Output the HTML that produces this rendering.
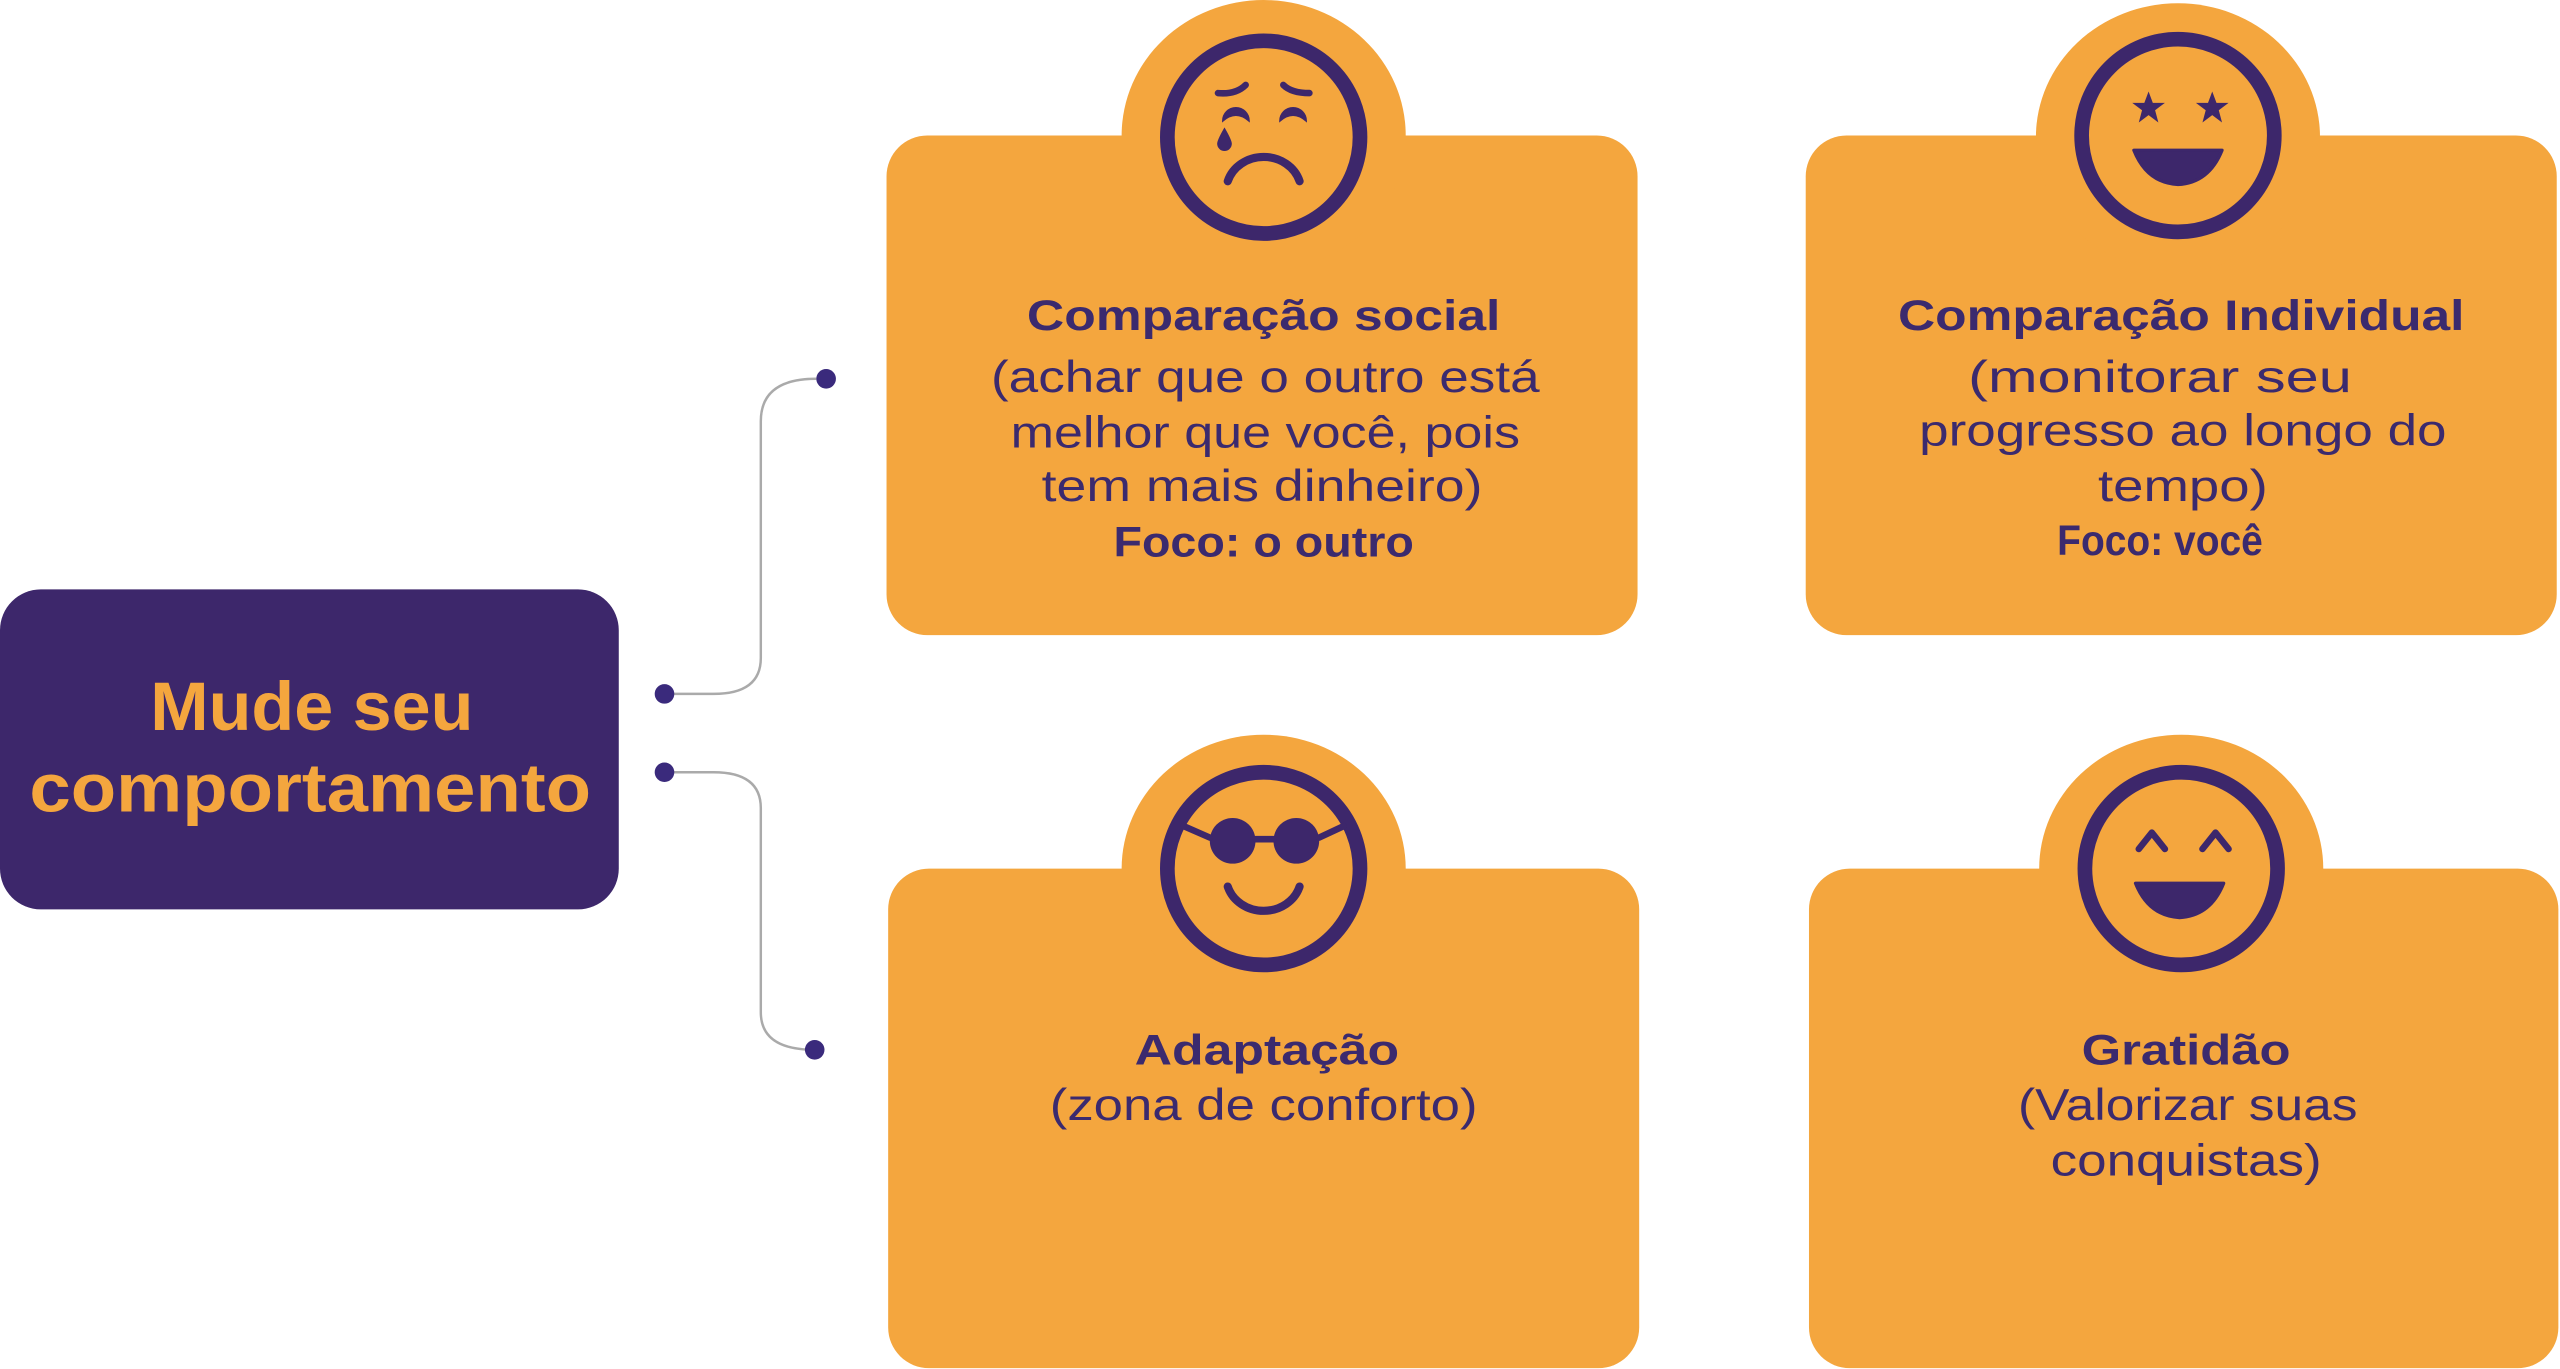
<!DOCTYPE html>
<html><head><meta charset="utf-8"><style>
html,body{margin:0;padding:0;background:#fff;width:2560px;height:1369px;overflow:hidden}
svg{display:block}
text{font-family:"Liberation Sans",sans-serif;fill:#3b2a6e}
.t{font-weight:bold;font-size:26px}
.b{font-size:27px}
</style></head><body>
<svg width="2560" height="1369" viewBox="0 0 1568 838.5" xmlns="http://www.w3.org/2000/svg">
<rect x="0" y="361" width="379" height="196" rx="25" fill="#3d276b"/>
<text x="191" y="447" text-anchor="middle" font-weight="bold" font-size="42" style="fill:#f4a63e" textLength="198" lengthAdjust="spacingAndGlyphs">Mude seu</text>
<text x="190" y="497" text-anchor="middle" font-weight="bold" font-size="42" style="fill:#f4a63e" textLength="344" lengthAdjust="spacingAndGlyphs">comportamento</text>
<g fill="none" stroke="#aaa" stroke-width="1.5">
<path d="M407,425 H437 Q466,425 466,403 V258 Q466,232 500,232"/>
<path d="M407,473 H437 Q466,473 466,495 V620 Q466,643 499,643"/>
</g>
<g fill="#3a2a7c">
<circle cx="407" cy="425" r="6"/><circle cx="506" cy="232" r="6"/>
<circle cx="407" cy="473" r="6"/><circle cx="499" cy="643" r="6"/>
</g>
<g fill="#f4a63e">
<rect x="543" y="83" width="460" height="306" rx="25"/><ellipse cx="774" cy="83" rx="87" ry="83"/>
<rect x="1106" y="83" width="460" height="306" rx="25"/><ellipse cx="1334" cy="84" rx="87" ry="82"/>
<rect x="544" y="532" width="460" height="306" rx="25"/><ellipse cx="774" cy="532" rx="87" ry="82"/>
<rect x="1108" y="532" width="459" height="306" rx="25"/><ellipse cx="1336" cy="532" rx="87" ry="82"/>
</g>
<g fill="none" stroke="#3d276b" stroke-width="9">
<circle cx="774" cy="84" r="59"/><circle cx="1334" cy="83" r="59"/>
<circle cx="774" cy="532" r="59"/><circle cx="1336" cy="532" r="59"/>
</g>
<g fill="#3d276b" stroke="#3d276b" stroke-linecap="round">
<path d="M746,57 Q757,58 763,52 M786,52 Q791,57 802,57" fill="none" stroke-width="4"/>
<path d="M749,74 a8,8 0 0 1 16,0 Q757,67 749,74z" stroke-width="1"/>
<path d="M784,74 a8,8 0 0 1 16,0 Q792,67 784,74z" stroke-width="1"/>
<path d="M750,79 Q754,86 754,88 a4,4 0 0 1 -8,0 Q746,86 750,79z" stroke-width="1"/>
<path d="M752,111 A23,21 0 0 1 796,111" fill="none" stroke-width="5"/>
</g>
<g fill="#3d276b">
<polygon points="1316,56 1318.6,63 1326,63 1320,67.5 1322,75 1316,70.5 1310,75 1312,67.5 1306,63 1313.4,63"/>
<polygon points="1355,56 1357.6,63 1365,63 1359,67.5 1361,75 1355,70.5 1349,75 1351,67.5 1345,63 1352.4,63"/>
<path d="M1307,92 L1361,92 Q1353,112 1334,113 Q1315,112 1307,92z" stroke="#3d276b" stroke-width="2" stroke-linejoin="round"/>
</g>
<g fill="#3d276b" stroke="#3d276b" stroke-linecap="round">
<circle cx="755" cy="515" r="14" stroke="none"/><circle cx="794" cy="515" r="14" stroke="none"/>
<path d="M769,514 H780 M741,513 L725,506 M808,513 L823,506" stroke-width="4"/>
<path d="M752,543 A23,21 0 0 0 796,543" fill="none" stroke-width="5"/>
</g>
<g fill="#3d276b" stroke="#3d276b" stroke-linecap="round" stroke-linejoin="round">
<path d="M1310,520 L1318,510 L1326,520 M1349,520 L1357,510 L1365,520" fill="none" stroke-width="4"/>
<path d="M1308,541 L1362,541 Q1354,561 1335,562 Q1316,561 1308,541z" stroke-width="2"/>
</g>
<text class="t" x="774" y="202" text-anchor="middle" textLength="290" lengthAdjust="spacingAndGlyphs">Comparação social</text>
<text class="b" x="775" y="240" text-anchor="middle" textLength="336" lengthAdjust="spacingAndGlyphs">(achar que o outro está</text>
<text class="b" x="775" y="274" text-anchor="middle" textLength="312" lengthAdjust="spacingAndGlyphs">melhor que você, pois</text>
<text class="b" x="773" y="307" text-anchor="middle" textLength="270" lengthAdjust="spacingAndGlyphs">tem mais dinheiro)</text>
<text class="t" x="774" y="341" text-anchor="middle" textLength="184" lengthAdjust="spacingAndGlyphs">Foco: o outro</text>
<text class="t" x="1336" y="202" text-anchor="middle" textLength="347" lengthAdjust="spacingAndGlyphs">Comparação Individual</text>
<text class="b" x="1323" y="240" text-anchor="middle" textLength="235" lengthAdjust="spacingAndGlyphs">(monitorar seu</text>
<text class="b" x="1337" y="273" text-anchor="middle" textLength="323" lengthAdjust="spacingAndGlyphs">progresso ao longo do</text>
<text class="b" x="1337" y="307" text-anchor="middle" textLength="104" lengthAdjust="spacingAndGlyphs">tempo)</text>
<text class="t" x="1323" y="340" text-anchor="middle" textLength="126" lengthAdjust="spacingAndGlyphs">Foco: você</text>
<text class="t" x="776" y="652" text-anchor="middle" textLength="162" lengthAdjust="spacingAndGlyphs">Adaptação</text>
<text class="b" x="774" y="686" text-anchor="middle" textLength="262" lengthAdjust="spacingAndGlyphs">(zona de conforto)</text>
<text class="t" x="1339" y="652" text-anchor="middle" textLength="128" lengthAdjust="spacingAndGlyphs">Gratidão</text>
<text class="b" x="1340" y="686" text-anchor="middle" textLength="208" lengthAdjust="spacingAndGlyphs">(Valorizar suas</text>
<text class="b" x="1339" y="720" text-anchor="middle" textLength="166" lengthAdjust="spacingAndGlyphs">conquistas)</text>
</svg>
</body></html>
